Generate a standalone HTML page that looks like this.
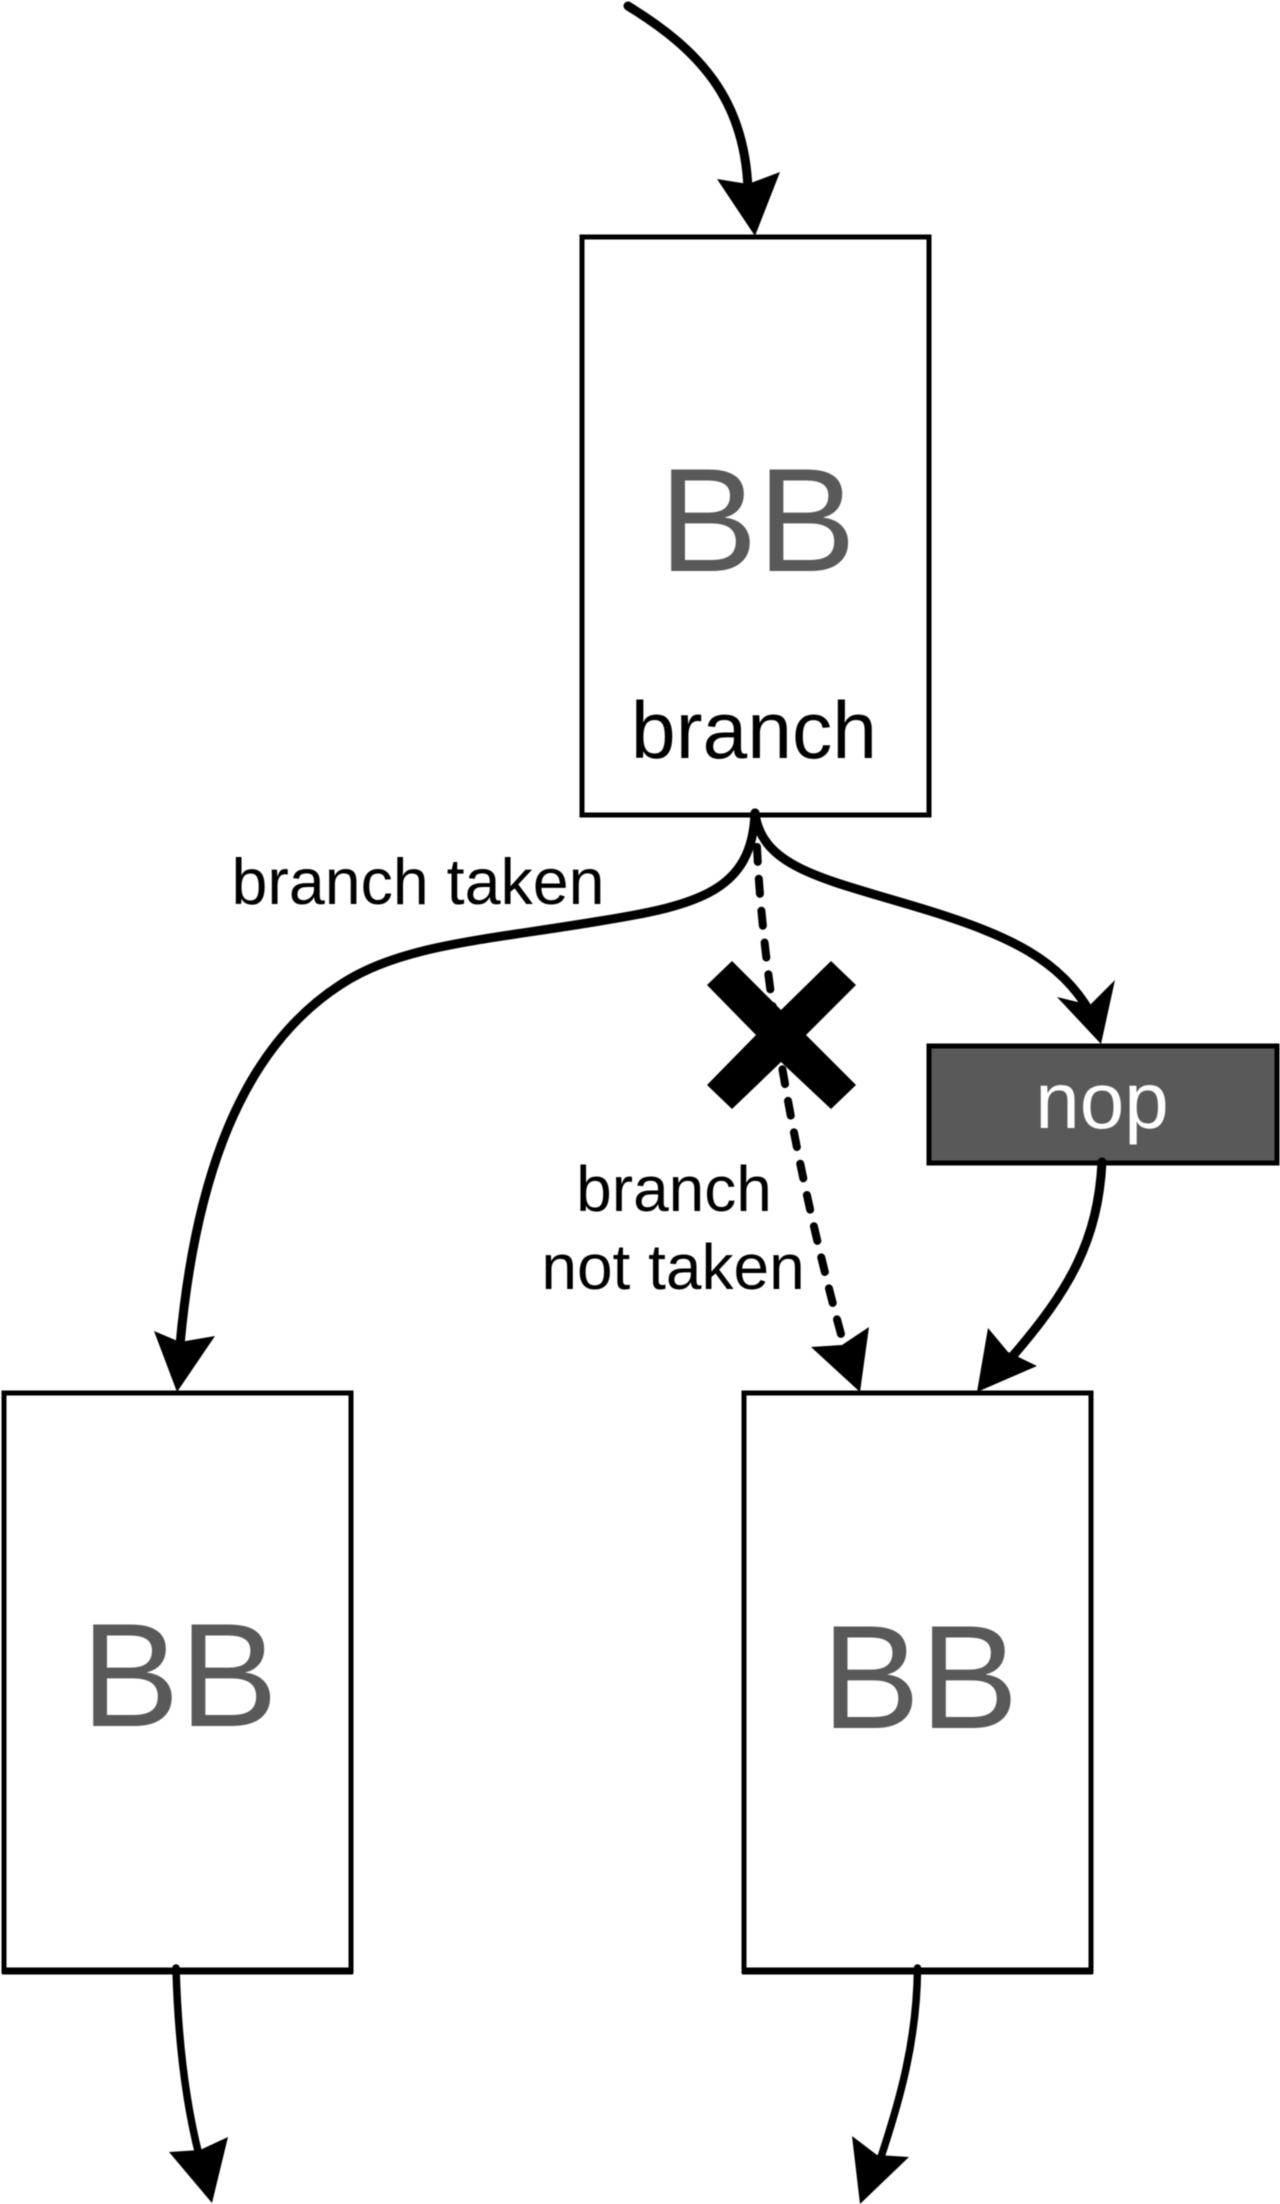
<!DOCTYPE html>
<html><head><meta charset="utf-8"><style>
html,body{margin:0;padding:0;background:#fff}
svg{display:block;filter:blur(0.5px)}
text{font-family:"Liberation Sans",sans-serif}
</style></head><body>
<svg width="1280" height="2204" viewBox="0 0 1280 2204" xmlns="http://www.w3.org/2000/svg">
<rect width="1280" height="2204" fill="#fff"/>
<g fill="#fff" stroke="#000" stroke-width="5">
<rect x="582" y="237" width="347" height="578"/>
<rect x="4" y="1393" width="347" height="578"/>
<rect x="744" y="1393" width="347" height="578"/>
</g>
<path d="M2 1971H353M742 1971H1093" stroke="#000" stroke-width="7" fill="none"/>
<rect x="929" y="1046" width="348" height="117" fill="#595959" stroke="#000" stroke-width="5"/>
<g fill="none" stroke="#000" stroke-width="9" stroke-linecap="round">
<path d="M628 6C700 50 745 100 748 190"/>
<path d="M755 813C752 890 700 905 600 921C480 941 400 945 340 985C240 1050 195 1180 180 1345"/>
<path d="M755 813C762 870 830 880 930 911C1010 936 1060 960 1090 1012"/>
<path d="M1102 1162C1098 1240 1070 1290 1011 1358"/>
<path d="M176 1968C178 2040 185 2100 199 2155" stroke-width="7.5"/>
<path d="M917.5 1968C917 2040 900 2100 880 2160" stroke-width="7.5"/>
<path d="M756 815C758 950 790 1150 844 1345" stroke-dasharray="15 17" stroke-width="8"/>
</g>
<g fill="#000">
<path d="M755 236L717 179L748 184L780 172Z"/>
<path d="M177 1392L154 1331L180 1342L215 1336Z"/>
<path d="M1101 1044L1057 997L1090 1005L1115 980Z"/>
<path d="M860 1392L811 1347L842 1345L869 1327Z"/>
<path d="M977 1392L988 1328L1008 1352L1037 1366Z"/>
<path d="M212 2203L169 2152L200 2150L228 2137Z"/>
<path d="M860 2204L852 2136L877 2155L909 2157Z"/>
<path d="M732 961L781 1010L831 961L856 985L806 1035L856 1085L831 1109L781 1062L732 1109L707 1085L756 1035L707 985Z"/>
</g>
<g fill="#595959" font-size="147.5" text-anchor="middle">
<text x="757.5" y="571">BB</text>
<text x="179.5" y="1726">BB</text>
<text x="920" y="1728">BB</text>
</g>
<text x="754" y="758" font-size="80.5" text-anchor="middle" fill="#000">branch</text>
<text x="418" y="904" font-size="64.5" text-anchor="middle" fill="#000">branch taken</text>
<text x="674" y="1211" font-size="64" text-anchor="middle" fill="#000">branch</text>
<text x="673" y="1289" font-size="64" text-anchor="middle" fill="#000">not taken</text>
<text x="1102" y="1128" font-size="80" text-anchor="middle" fill="#fff">nop</text>
</svg>
</body></html>
